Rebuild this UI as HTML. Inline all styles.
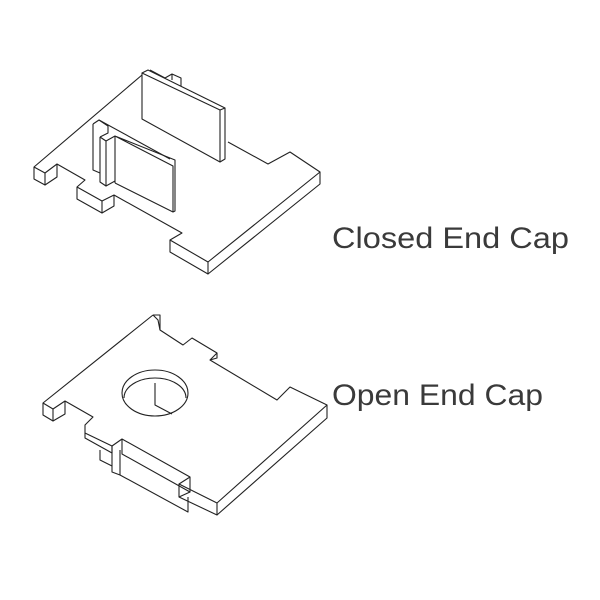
<!DOCTYPE html>
<html><head><meta charset="utf-8"><style>
html,body{margin:0;padding:0;background:#fff;}
svg{display:block}
</style></head><body>
<svg width="600" height="600" viewBox="0 0 600 600" xmlns="http://www.w3.org/2000/svg">
<g fill="none" stroke="#222" stroke-width="1.1" stroke-linejoin="round">
<!-- CLOSED CAP -->
<polyline points="142,75 34,167 45,173 57,164 85,180 77,187 102,201 114,195 182,233 170,240 208,262 320,172 290,152 268,164 228,142"/>
<polyline points="34,167 34,179 45,185 45,173"/>
<polyline points="45,185 57,177 57,164"/>
<polyline points="77,187 77,199 102,213 102,201"/>
<polyline points="102,213 114,206 114,195"/>
<polyline points="170,240 170,252 208,274 208,262"/>
<polyline points="208,274 320,184 320,172"/>
<!-- back tab -->
<polyline points="150,70 165,78 172,74 181,78 181,86"/>
<line x1="172" y1="74" x2="172" y2="80"/>
<!-- big panel -->
<polygon points="142,73 142,119 220,162 220,110"/>
<polyline points="142,73 148,70 225,108 220,110"/>
<polyline points="225,108 225,159 220,162"/>
<!-- small panel -->
<polyline points="93,124 93,170 100,173"/>
<polyline points="93,124 99,120 108,126 108,133 100,137"/>
<polyline points="99,120 170,159"/>
<polyline points="100,137 100,182 106,186 106,141 100,137"/>
<polyline points="106,141 115,136 173,166 173,212 175,211 175,160 115,136"/>
<line x1="115" y1="136" x2="115" y2="183"/>
<line x1="115" y1="183" x2="173" y2="212"/>
<polyline points="106,186 115,181"/>

<!-- OPEN CAP -->
<polyline points="153,315 43,403 53,409 65,401 93,417 85,425 85,433 112,446 122,439 190,477 179,484 217,503 327,405 290,387 277,400 210,360 217,353 192,338 183,345 160,330 160,315 153,315"/>
<polyline points="153,315 158,320 160,330"/>
<polyline points="210,360 217,358 217,353"/>
<polyline points="43,403 43,415 53,421 53,409"/>
<polyline points="53,421 65,414 65,401"/>
<polyline points="85,433 85,438 112,453 112,446"/>
<polyline points="122,439 122,454 190,492 190,477"/>
<polyline points="179,484 179,497 217,515 217,503"/>
<polyline points="217,515 327,418 327,405"/>
<line x1="179" y1="497" x2="190" y2="492"/>
<polyline points="112,446 112,472 120,475 120,450"/>
<polyline points="100,450 100,460 112,466"/>
<polyline points="120,475 188,512 188,497"/>
<ellipse cx="155" cy="393" rx="33" ry="23"/>
<path d="M124,398 A31,20 0 0 1 186,398"/>
<polyline points="155,383 155,405 172,414"/>
</g>
<g font-family="'Liberation Sans', sans-serif" font-size="30" fill="#3a3a3a">
<text x="332" y="248" textLength="237" lengthAdjust="spacingAndGlyphs">Closed End Cap</text>
<text x="332" y="405" textLength="211" lengthAdjust="spacingAndGlyphs">Open End Cap</text>
</g>
</svg>
</body></html>
